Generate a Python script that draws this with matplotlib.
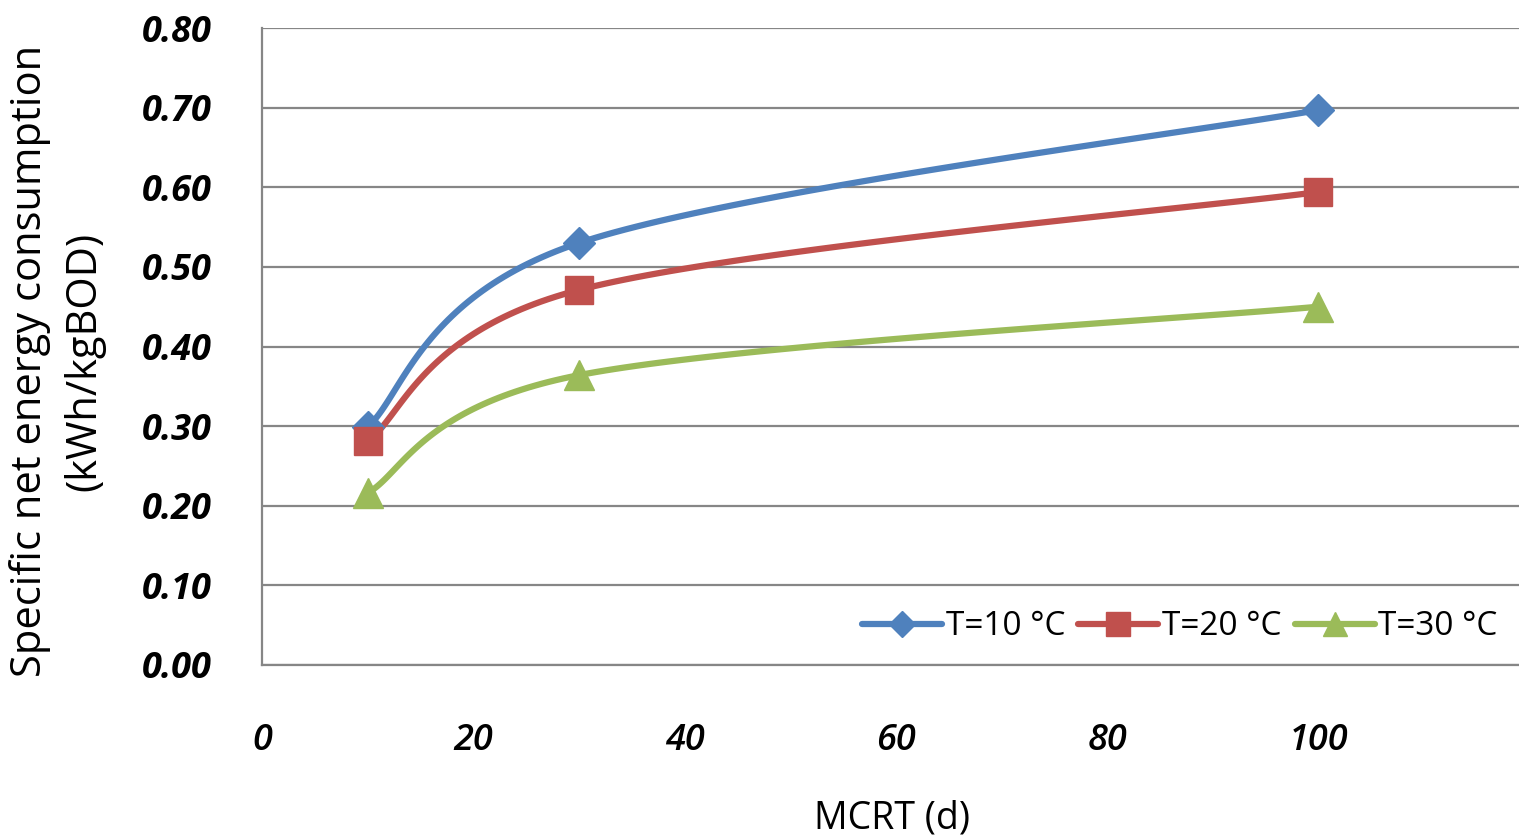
import numpy as np
import matplotlib.pyplot as plt

# data
mcrt = [10, 30, 100]
t10 = [0.299, 0.530, 0.697]
t20 = [0.281, 0.471, 0.594]
t30 = [0.216, 0.364, 0.450]
series = [t10, t20, t30]
labels = ["T=10 °C", "T=20 °C", "T=30 °C"]
colors = ["#4F81BD", "#C0504D", "#9BBB59"]
markers = ["D", "s", "^"]
msizes = [16, 20, 21]
y_ticks = [0.0, 0.1, 0.2, 0.3, 0.4, 0.5, 0.6, 0.7, 0.8]
x_ticks = [0, 20, 40, 60, 80, 100]

FONT = "Open Sans"
GRID = "#868686"


def excel_smooth(ax, xs, ys, n=60):
    # bezier smoothing like Excel's "smoothed line", done in screen space
    pts = ax.transData.transform(np.column_stack([xs, ys]))
    p = np.vstack([pts[0], pts, pts[-1]])
    out = []
    for i in range(1, len(p) - 2):
        p0, p3 = p[i], p[i + 1]
        c1 = p0 + (p[i + 1] - p[i - 1]) / 6
        c2 = p3 - (p[i + 2] - p[i]) / 6
        t = np.linspace(0, 1, n)[:, None]
        seg = ((1 - t) ** 3) * p0 + 3 * ((1 - t) ** 2) * t * c1 + 3 * (1 - t) * t ** 2 * c2 + t ** 3 * p3
        out.append(seg)
    out = np.vstack(out)
    return ax.transData.inverted().transform(out)


fig = plt.figure(figsize=(15.19, 8.4), dpi=100)
ax = fig.add_axes([262 / 1519, 1 - 665 / 840, 1 - 262 / 1519, (665 - 28) / 840])
ax.set_xlim(0, 119)
ax.set_ylim(0, 0.8)

ax.set_yticks(y_ticks)
ax.set_yticklabels([f"{v:.2f}" for v in y_ticks], fontfamily=FONT,
                   fontweight="bold", fontstyle="italic", fontsize=26)
ax.set_xticks(x_ticks)
ax.set_xticklabels([str(v) for v in x_ticks], fontfamily=FONT,
                   fontweight="semibold", fontstyle="italic", fontsize=26)
ax.tick_params(axis="y", length=0, pad=36)
ax.tick_params(axis="x", length=0, pad=42)

ax.grid(axis="y", color=GRID, lw=1.6)
ax.set_axisbelow(True)
for side in ["top", "right"]:
    ax.spines[side].set_visible(False)
for side in ["left", "bottom"]:
    ax.spines[side].set_color(GRID)
    ax.spines[side].set_linewidth(1.6)

handles = []
for ys, lab, c, m, ms in zip(series, labels, colors, markers, msizes):
    curve = excel_smooth(ax, mcrt, ys)
    ax.plot(curve[:, 0], curve[:, 1], color=c, lw=4.5, solid_capstyle="round", zorder=3)
    ax.plot(mcrt, ys, ls="none", marker=m, ms=ms, color=c, zorder=4)
    h, = ax.plot([], [], color=c, lw=4.5, marker=m, ms=ms * 0.85, label=lab,
                 solid_capstyle="round")
    handles.append(h)

leg = ax.legend(handles=handles, loc="lower right", bbox_to_anchor=(1.0, 0.0),
                ncol=3, frameon=False, handlelength=2.4, handletextpad=0.1,
                columnspacing=0.4, borderaxespad=0.25,
                prop={"family": FONT, "size": 24})

fig.text(30 / 1519, 1 - 361 / 840, "Specific net energy consumption",
         rotation=90, ha="center", va="center", fontfamily=FONT, fontsize=30)
fig.text(84 / 1519, 1 - 361 / 840, "(kWh/kgBOD)",
         rotation=90, ha="center", va="center", fontfamily=FONT, fontsize=30)
fig.text(892 / 1519, 1 - 818 / 840, "MCRT (d)", ha="center", va="center",
         fontfamily=FONT, fontsize=27)

fig.savefig("out.png", dpi=100)
